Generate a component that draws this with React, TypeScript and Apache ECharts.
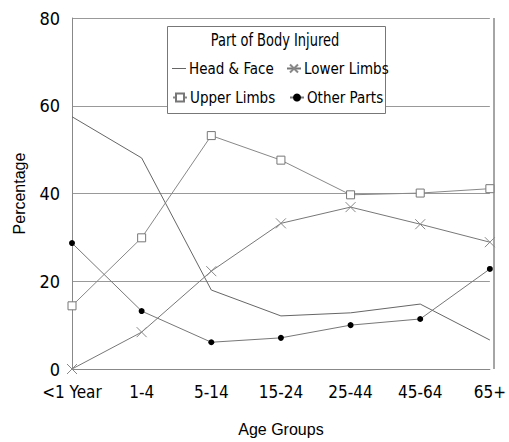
import React, { useEffect, useRef } from "react";
import * as echarts from "echarts";

const categories = ["<1 Year", "1-4", "5-14", "15-24", "25-44", "45-64", "65+"];
const headFace = [57.5, 48.1, 18.0, 12.1, 12.8, 14.8, 6.6];
const upperLimbs = [14.4, 29.9, 53.2, 47.6, 39.7, 40.1, 41.1];
const lowerLimbs = [0, 8.4, 22.3, 33.2, 36.9, 33.0, 28.9];
const otherParts = [28.7, 13.2, 6.1, 7.1, 10.0, 11.4, 22.8];
const yTicks = [0, 20, 40, 60, 80];

const FONT = "'DejaVu Sans Condensed', 'Liberation Sans', sans-serif";
const CROSS = "path://M0,0L10,10M10,0L0,10";

export default function App() {
  const ref = useRef<HTMLDivElement>(null);
  useEffect(() => {
    const chart = echarts.init(ref.current!, null, { renderer: "svg" });
    const lineStyle = { color: "#777", width: 1 };
    const legendText = { fontFamily: FONT, fontSize: 15, color: "#000", padding: [0, 0, 0, -2] };
    const legendBase = { itemWidth: 14, itemHeight: 10, z: 12, textStyle: legendText, padding: 0 };
    chart.setOption({
      animation: false,
      backgroundColor: "#fff",
      textStyle: { fontFamily: FONT },
      grid: { left: 72, right: 15, top: 18, bottom: 73 },
      xAxis: {
        type: "category",
        data: categories,
        boundaryGap: false,
        name: "Age Groups",
        nameLocation: "middle",
        nameGap: 52,
        nameTextStyle: { fontFamily: "'Liberation Sans', Arial, sans-serif", fontSize: 16, color: "#000" },
        axisLine: { lineStyle: { color: "#888" } },
        axisTick: { show: false },
        axisLabel: { fontFamily: FONT, fontSize: 17, color: "#000", margin: 14, interval: 0 },
        splitLine: { show: false },
      },
      yAxis: {
        type: "value",
        min: 0,
        max: 80,
        interval: 20,
        name: "Percentage",
        nameLocation: "middle",
        nameGap: 45,
        nameTextStyle: { fontFamily: "'Liberation Sans', Arial, sans-serif", fontSize: 16, color: "#000" },
        axisLine: { show: true, lineStyle: { color: "#888" } },
        axisTick: { show: false },
        axisLabel: {
          fontFamily: FONT,
          fontSize: 18,
          color: "#000",
          margin: 12,
          formatter: (v: number) => (yTicks.includes(v) ? String(v) : ""),
        },
        splitLine: { show: true, lineStyle: { color: "#999", width: 1 } },
      },
      graphic: [
        {
          type: "rect",
          shape: { x: 494, y: 18, width: 0, height: 351 },
          style: { stroke: "#888", fill: "none", lineWidth: 1 },
          z: 1,
        },
        {
          type: "rect",
          shape: { x: 167.5, y: 26.5, width: 218, height: 87 },
          style: { stroke: "#777", fill: "#fff", lineWidth: 1 },
          z: 10,
        },
        {
          type: "text",
          x: 275,
          y: 40,
          scaleX: 0.85,
          style: {
            text: "Part of Body Injured",
            fontFamily: FONT,
            fontSize: 17,
            fill: "#000",
            align: "center",
            verticalAlign: "middle",
          },
          z: 11,
        },
      ],
      legend: [
        { ...legendBase, data: [{ name: "Head & Face", icon: "path://M0,4.5L14,4.5L14,5.5L0,5.5Z" }], left: 172, top: 61 },
        { ...legendBase, data: ["Lower Limbs"], left: 286, top: 61 },
        { ...legendBase, data: ["Upper Limbs"], left: 172, top: 90 },
        { ...legendBase, data: ["Other Parts"], left: 289, top: 90 },
      ],
      series: [
        {
          name: "Head & Face",
          type: "line",
          data: headFace,
          symbol: "none",
          lineStyle: { color: "#666", width: 1 },
          itemStyle: { color: "#666" },
        },
        {
          name: "Upper Limbs",
          type: "line",
          data: upperLimbs,
          symbol: "rect",
          symbolSize: 8,
          lineStyle: { color: "#888", width: 1 },
          itemStyle: { color: "#fff", borderColor: "#777", borderWidth: 1 },
        },
        {
          name: "Lower Limbs",
          type: "line",
          data: lowerLimbs,
          symbol: CROSS,
          symbolSize: 10,
          lineStyle,
          itemStyle: { color: "none", borderColor: "#888", borderWidth: 1 },
        },
        {
          name: "Other Parts",
          type: "line",
          data: otherParts,
          symbol: "circle",
          symbolSize: 6,
          lineStyle,
          itemStyle: { color: "#000", borderColor: "#000", borderWidth: 0 },
        },
      ],
    });
    return () => chart.dispose();
  }, []);
  return <div ref={ref} style={{ width: 509, height: 442, position: "absolute", left: 0, top: 0 }} />;
}
